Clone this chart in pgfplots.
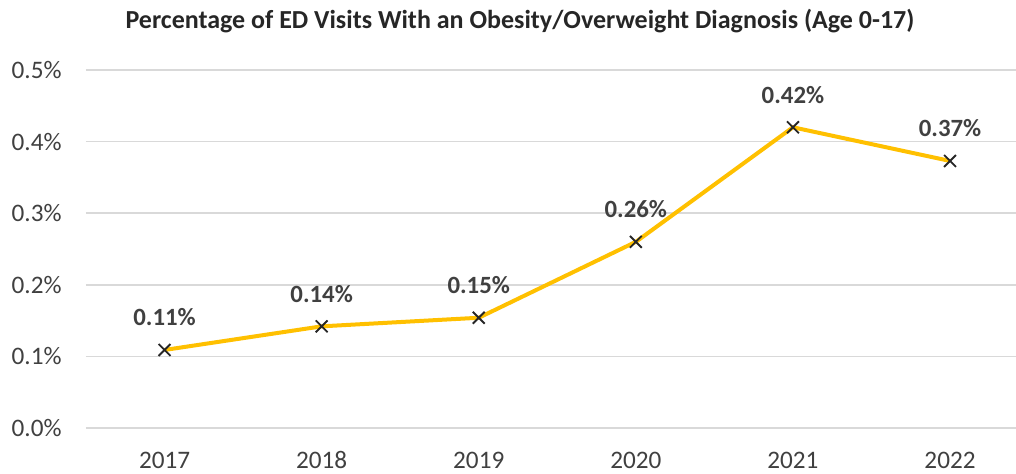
\documentclass[border=0pt]{standalone}
\usepackage{fontspec}
\setmainfont{Carlito}
\usepackage{pgfplots}
\pgfplotsset{compat=1.18}
\definecolor{gold}{HTML}{FFC000}
\definecolor{gridc}{HTML}{D9D9D9}
\definecolor{txt}{HTML}{404040}
\begin{document}
\begin{tikzpicture}[x=0.5pt,y=0.5pt]
\begin{axis}[
  at={(0,0)}, anchor=south west,
  scale only axis,
  width=465pt, height=179pt,
  xmin=2016.5, xmax=2022.42,
  ymin=0, ymax=0.5,
  xtick={2017,2018,2019,2020,2021,2022},
  xticklabels={2017,2018,2019,2020,2021,2022},
  ytick={0,0.1,0.2,0.3,0.4,0.5},
  yticklabel={\pgfmathprintnumber[fixed,fixed zerofill,precision=1]{\tick}\%},
  /pgf/number format/assume math mode=true,
  axis line style={draw=none},
  major tick length=0pt,
  tick style={draw=none},
  ymajorgrids=true,
  grid style={gridc, line width=0.8pt},
  clip=false,
  xticklabel style={font=\fontsize{12.6}{14}\selectfont, text=txt, anchor=base, yshift=-20pt},
  yticklabel style={font=\fontsize{12.6}{14}\selectfont, text=txt, anchor=east, inner sep=0pt, xshift=-12pt},
  nodes near coords={\pgfmathprintnumber[fixed,fixed zerofill,precision=2]{\pgfplotspointmeta}\%},
  every node near coord/.style={font=\bfseries\fontsize{12.4}{14}\selectfont, text=txt, anchor=base, inner sep=0pt, yshift=12pt},
]
\addplot[gold, line width=2pt, mark=x, mark size=4.2pt,
  mark options={black!85, line width=0.9pt}]
  coordinates {(2017,0.109)(2018,0.142)(2019,0.154)(2020,0.260)(2021,0.420)(2022,0.373)};
\end{axis}
\node[anchor=base, font=\bfseries\fontsize{13}{15}\selectfont, text=black!85] at (434,400)
  {Percentage of ED Visits\ With an Obesity/Overweight Diagnosis (Age 0-17)};
\pgfresetboundingbox
\useasboundingbox (-86,-45) rectangle (930,428);
\end{tikzpicture}
\end{document}
